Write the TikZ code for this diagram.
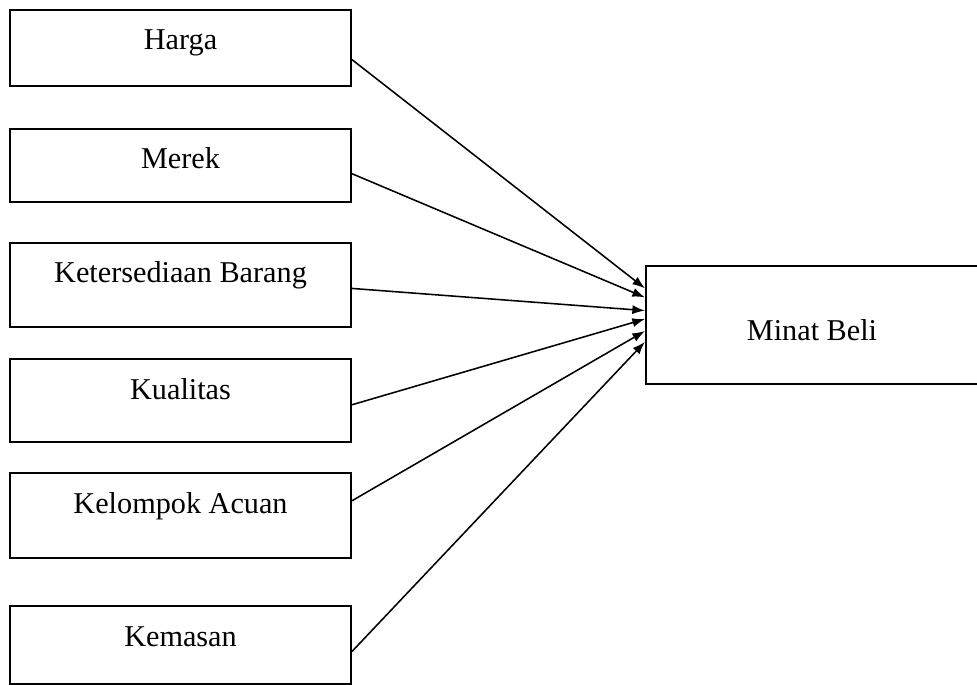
\documentclass[tikz,border=0pt]{standalone}
\usepackage{fontspec}
\setmainfont{Liberation Serif}
\usetikzlibrary{calc,arrows.meta}

\def\px{0.025}
\tikzset{
  faktor/.style={draw, line width=1.4pt, inner sep=0pt, minimum width=8.525cm, text height=1cm, text depth=#1},
  panah/.style={-{Latex[length=9pt,width=6.5pt]}, line width=1.1pt},
}

\begin{document}
\begin{tikzpicture}[x=\px cm, y=-\px cm, font=\fontsize{21.5}{25}\selectfont]
\useasboundingbox (0,0) rectangle (977,684);

% faktor-faktor (left column)
\node[faktor=0.9cm, anchor=north west] (harga) at (9,9) {Harga};
\node[faktor=0.825cm, anchor=north west] (merek) at (9,128) {Merek};
\node[faktor=1.1cm, anchor=north west] (sedia) at (9,242) {Ketersediaan Barang};
\node[faktor=1.075cm, anchor=north west] (kualitas) at (9,358) {Kualitas};
\node[faktor=1.125cm, anchor=north west] (acuan) at (9,472) {Kelompok Acuan};
\node[faktor=0.95cm, anchor=north west] (kemasan) at (9,605) {Kemasan};

% variabel terikat
\node[draw, line width=1.4pt, inner sep=0pt, minimum width=8.3cm, text height=1.85cm, text depth=1.1cm, anchor=north west] (minat) at (645,265) {Minat Beli};

% panah ke minat beli
\foreach \f/\a/\b in {harga/.65/.195, merek/.61/.27, sedia/.54/.38, kualitas/.55/.45, acuan/.33/.55, kemasan/.58/.64}
  {
  \draw[panah] ($(\f.north east)!\a!(\f.south east)$) -- ($(minat.north west)!\b!(minat.south west)$);
  }

\end{tikzpicture}
\end{document}
